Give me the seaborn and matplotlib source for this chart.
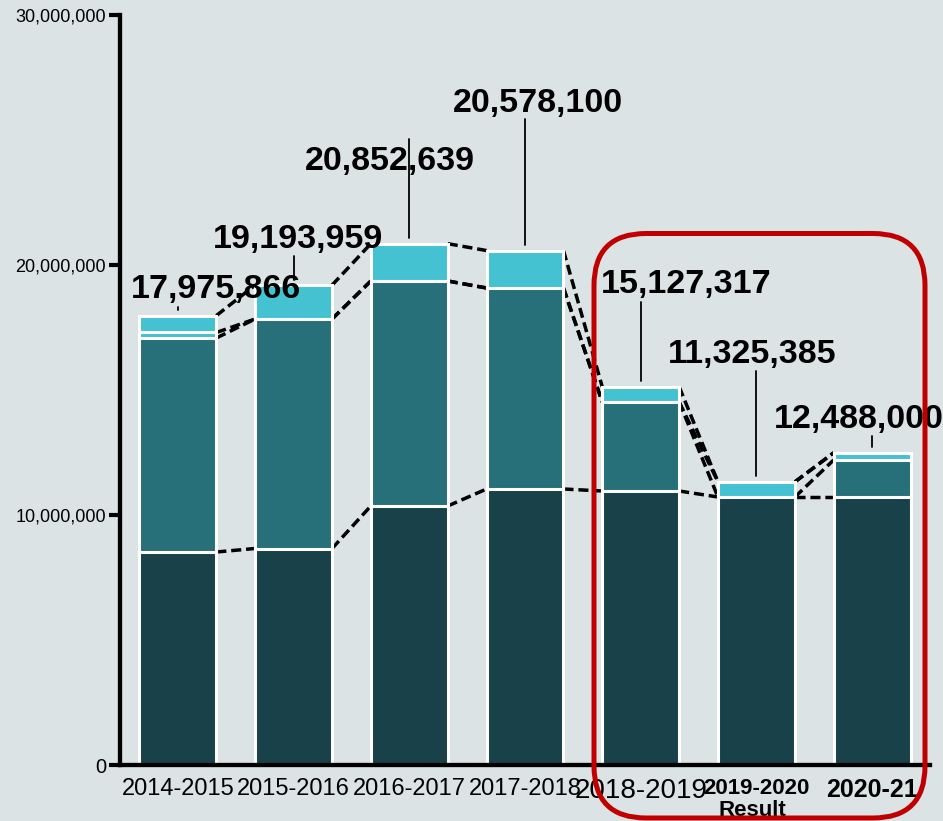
import matplotlib
matplotlib.use("Agg")
import matplotlib.pyplot as plt
from matplotlib.patches import FancyBboxPatch
from matplotlib.transforms import IdentityTransform
import pandas as pd
import seaborn as sns

# ---- data -------------------------------------------------------------
years = ["2014-2015", "2015-2016", "2016-2017", "2017-2018",
         "2018-2019", "2019-2020", "2020-21"]
base_funds = [8520000, 8660000, 10360000, 11040000, 10960000, 10720000, 10720000]
mid_funds = [8560000, 9180000, 9000000, 8040000, 3560000, 0, 1480000]
minor_funds = [220000, 0, 0, 0, 0, 605385, 288000]
top_funds = [675866, 1353959, 1492639, 1498100, 607317, 0, 0]
totals = [17975866, 19193959, 20852639, 20578100, 15127317, 11325385, 12488000]
y_ticks = [0, 10000000, 20000000, 30000000]

# ---- layout -----------------------------------------------------------
label_dx = [0.33, 0.04, -0.165, 0.11, 0.39, -0.04, -0.115]
label_base = [18.68e6, 20.68e6, 23.80e6, 26.12e6, 18.88e6, 16.08e6, 13.48e6]
leader_top = [18.32e6, 20.36e6, 25.04e6, 25.84e6, 18.52e6, 15.76e6, 13.16e6]
xtick_style = [(17, "normal")] * 4 + [(20, "normal"), (16, "bold"), (18, "bold")]

BG = "#dbe3e5"
W = 0.665

sns.set_theme(style="ticks")
plt.rcParams["font.family"] = ["Liberation Sans", "DejaVu Sans"]

fig = plt.figure(figsize=(9.43, 8.21), dpi=100, facecolor=BG)
ax = fig.add_axes([120 / 943, 56 / 821, 810 / 943, 750 / 821])
ax.set_facecolor(BG)

stack = pd.DataFrame({"year": years, "base": base_funds, "mid": mid_funds,
                      "minor": minor_funds, "top": top_funds})
layers = ["base", "mid", "minor", "top"]
cum = stack[layers].cumsum(axis=1)
stack_cum = pd.concat([stack[["year"]], cum], axis=1)
colors = {"base": "#18414a", "mid": "#277079", "minor": "#44c2d1", "top": "#44c2d1"}

# stacked columns: draw cumulative heights from the top layer down
for layer in reversed(layers):
    sns.barplot(data=stack_cum, x="year", y=layer, order=years,
                color=colors[layer], saturation=1, width=W,
                edgecolor="white", linewidth=2.2, errorbar=None,
                ax=ax, zorder=2)

# dashed series lines joining each layer's top between neighbouring bars
for layer in layers:
    vals = cum[layer].tolist()
    for i in range(len(years) - 1):
        ax.plot([i + W / 2, i + 1 - W / 2], [vals[i], vals[i + 1]],
                color="black", lw=2.5, ls=(0, (2.9, 1.4)), zorder=1.5,
                dash_capstyle="butt")

# total labels with leader lines
for i, tot in enumerate(totals):
    ax.plot([i, i], [tot + 0.22e6, leader_top[i]], color="black", lw=1.3,
            zorder=3, clip_on=False)
    ax.text(i + label_dx[i], label_base[i], f"{tot:,}", ha="center",
            va="baseline", fontsize=24.5, fontweight="bold", color="black",
            zorder=4, clip_on=False)

# axes styling
ax.set_xlim(-0.5, 6.5)
ax.set_ylim(0, 30000000)
ax.set_xlabel("")
ax.set_ylabel("")
sns.despine(ax=ax)
for side in ("left", "bottom"):
    ax.spines[side].set_linewidth(3.1)
    ax.spines[side].set_color("black")
    ax.spines[side].set_zorder(5)

ax.set_yticks(y_ticks)
ax.set_yticklabels([f"{v:,}" for v in y_ticks])
ax.tick_params(axis="y", length=8, width=3, color="black", pad=2,
               labelsize=13, labelcolor="black")
ax.get_yticklabels()[0].set_fontsize(14.5)

ax.set_xticks(range(len(years)))
ax.set_xticklabels(years)
ax.tick_params(axis="x", length=0, pad=9, labelcolor="black")
for lab, (size, weight) in zip(ax.get_xticklabels(), xtick_style):
    lab.set_fontsize(size)
    lab.set_fontweight(weight)

fig.text(752 / 943, 5 / 821, "Result", ha="center", va="baseline",
         fontsize=16, fontweight="bold", color="black")

# highlight frame around the latest three years
frame = FancyBboxPatch((594, 3), 331, 584.5,
                       boxstyle="round,pad=0,rounding_size=52",
                       transform=IdentityTransform(), facecolor="none",
                       edgecolor="#c00000", linewidth=3.6, zorder=10)
fig.patches.append(frame)

fig.savefig("out.png", dpi=100, facecolor=BG)
